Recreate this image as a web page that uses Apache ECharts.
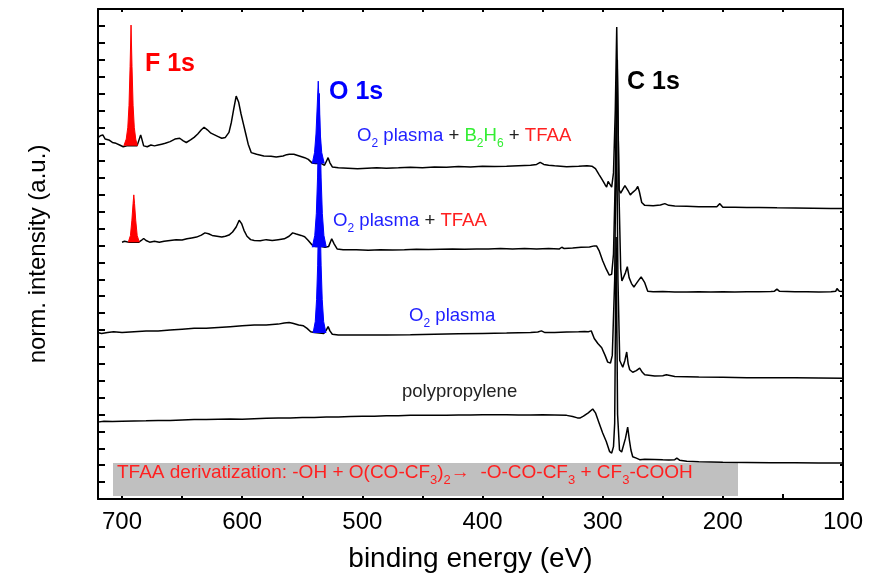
<!DOCTYPE html>
<html>
<head>
<meta charset="utf-8">
<script src="https://cdn.jsdelivr.net/npm/echarts@6.0.0/dist/echarts.min.js"></script>
<style>
html, body { margin: 0; padding: 0; background: #fff; }
#chart { width: 872px; height: 579px; }
</style>
</head>
<body>
<div id="chart"></div>
<script>
// binding energy axis (eV), reversed
const xTicks = [700, 600, 500, 400, 300, 200, 100];

// XPS survey spectra, [binding energy (eV), normalised intensity + offset]
const b2h6Tfaa = [[720.5,21.35],[718,21.5],[716,21.55],[714,21.3],[711,21.25],[708,21.1],[705,21.05],[702,20.95],[699,20.85],[696,20.9],[693,20.9],[690,20.9],[687.5,20.9],[686,21.0],[684.5,21.55],[683.5,21.3],[682,20.9],[679,20.85],[676,20.95],[673,20.9],[670,20.95],[667,21.0],[664,21.05],[660,21.15],[656,21.3],[652,21.35],[649,21.2],[646.5,21.1],[643,21.25],[640,21.4],[637,21.6],[634,21.85],[631.7,22.0],[629,21.85],[626,21.65],[623,21.55],[620,21.45],[617,21.35],[614,21.4],[611,21.7],[609,22.3],[607,23.1],[605,23.85],[603,23.5],[601,22.8],[599,22.2],[597,21.6],[595,21.0],[592.5,20.5],[588,20.4],[582,20.3],[576,20.28],[571.7,20.24],[566,20.3],[563,20.38],[560.8,20.41],[557,20.4],[552.5,20.3],[548,20.2],[545,20.1],[541.7,19.88],[539,19.85],[536.5,19.85],[534,19.85],[531.5,19.75],[529.5,20.05],[528.5,20.2],[527,19.9],[525,19.65],[520,19.6],[512,19.58],[504,19.55],[496,19.58],[488,19.6],[480,19.58],[470,19.6],[460,19.63],[450,19.6],[440,19.65],[430,19.63],[420,19.68],[410,19.65],[400,19.7],[390,19.68],[380,19.7],[370,19.73],[360,19.75],[355,19.8],[352,19.92],[349,19.8],[345,19.75],[340,19.72],[335,19.7],[330,19.66],[320,19.7],[313,19.73],[309,19.7],[306,19.55],[303,19.2],[300.8,18.95],[298,18.6],[296.7,18.46],[295.5,18.8],[294,18.88],[292.5,18.46],[291,19.3],[289.5,23],[288.3,27.93],[287.2,22],[286.3,18.3],[285,18.1],[283.5,18.3],[281.5,18.55],[280,18.6],[278.5,18.2],[277,18.0],[275,18.15],[272.5,18.3],[270.8,18.5],[269.5,18.2],[267.5,17.55],[265,17.38],[258,17.35],[252,17.4],[248.3,17.48],[245,17.38],[240,17.34],[230,17.33],[220,17.3],[210,17.3],[205,17.3],[202.5,17.48],[200,17.27],[190,17.26],[180,17.25],[170,17.25],[155,17.23],[140,17.22],[125,17.21],[110,17.2],[100,17.2]];

const tfaa = [[700,15.2],[698,15.25],[696,15.22],[694,15.2],[690,15.2],[686,15.2],[684,15.3],[682,15.42],[680,15.3],[677,15.2],[673,15.25],[669,15.2],[665,15.25],[660,15.3],[655,15.35],[650,15.33],[646,15.4],[642,15.45],[638,15.5],[634,15.62],[631,15.75],[628,15.7],[625,15.6],[621,15.55],[617,15.5],[614,15.55],[611,15.62],[608,15.8],[605,16.1],[602.5,16.5],[600.5,16.3],[598.5,15.9],[596,15.55],[593,15.35],[590,15.3],[585,15.28],[580,15.35],[575,15.3],[570,15.35],[565,15.4],[561,15.55],[558,15.75],[555,15.68],[551,15.6],[548,15.52],[545,15.3],[542,15.05],[539,14.95],[534,14.95],[531,14.9],[528,14.95],[525.5,15.4],[523.5,15.1],[521,14.8],[516,14.75],[505,14.75],[495,14.72],[485,14.75],[475,14.73],[465,14.75],[455,14.78],[445,14.76],[435,14.78],[425,14.8],[415,14.78],[405,14.8],[395,14.8],[385,14.82],[375,14.8],[365,14.82],[355,14.8],[345,14.82],[336,14.8],[334,14.9],[332,14.82],[325,14.85],[318,14.9],[311,14.92],[307,14.98],[305,14.97],[303,14.7],[300,14.1],[297,13.6],[294.5,13.25],[292.5,13.3],[291,14.5],[289.5,19],[287.8,26.0],[286.4,18],[285,13.6],[284,12.9],[282.5,13.0],[281,13.4],[279.5,13.75],[278,13.1],[276,12.75],[274,12.55],[272.5,12.7],[270,12.95],[268,13.15],[266.5,13.25],[265,12.8],[262.5,12.3],[258,12.26],[250,12.28],[240,12.25],[230,12.25],[220,12.27],[210,12.25],[200,12.26],[190,12.25],[180,12.27],[170,12.26],[160,12.28],[157,12.3],[155,12.42],[153,12.3],[140,12.27],[130,12.26],[120,12.25],[110,12.27],[106,12.3],[105,12.45],[103,12.3],[100,12.28]];

const o2Plasma = [[720.5,9.85],[717,9.8],[712,9.85],[707,9.9],[700,9.85],[690,9.9],[680,9.95],[670,9.95],[660,10.0],[650,10.05],[640,10.1],[630,10.1],[620,10.15],[610,10.2],[600,10.25],[590,10.3],[580,10.3],[570,10.35],[565,10.42],[561,10.45],[558,10.4],[553,10.3],[549,10.25],[546,10.1],[543,9.9],[540,9.85],[532,9.8],[530,10.0],[528.5,10.2],[527,9.95],[525,9.75],[520,9.7],[510,9.7],[500,9.7],[480,9.7],[460,9.72],[440,9.75],[420,9.78],[400,9.8],[380,9.82],[360,9.85],[354,9.88],[351,9.95],[348,9.85],[340,9.85],[330,9.88],[320,9.9],[315,9.92],[312,9.9],[309.5,9.95],[307,9.5],[304,9.2],[300.8,8.95],[298,8.5],[295.8,8.1],[293.5,8.05],[292,8.5],[290,13],[288.6,23.3],[287.3,13],[285.8,8.2],[283.3,7.8],[281.5,8.2],[280,8.7],[278.8,8.0],[277.5,7.65],[275,7.5],[272,7.6],[269.2,7.75],[267,7.5],[265,7.35],[256.7,7.28],[250,7.3],[247,7.35],[240,7.25],[220,7.22],[200,7.2],[180,7.18],[160,7.18],[140,7.17],[120,7.16],[100,7.15]];

const polypropylene = [[720.5,4.55],[715,4.6],[708,4.58],[700,4.6],[690,4.62],[680,4.63],[670,4.65],[660,4.64],[650,4.67],[640,4.7],[630,4.7],[620,4.72],[610,4.73],[600,4.72],[590,4.75],[580,4.78],[570,4.8],[560,4.8],[550,4.82],[540,4.83],[530,4.85],[520,4.86],[510,4.88],[500,4.9],[490,4.9],[480,4.92],[470,4.93],[460,4.95],[450,4.95],[440,4.96],[430,4.96],[420,4.97],[410,4.97],[400,4.98],[390,4.98],[380,4.98],[370,4.97],[360,4.97],[350,4.98],[340,4.97],[330,4.95],[325,4.88],[321,4.8],[319,4.79],[316,4.9],[312,5.1],[308.3,5.33],[306,5.1],[303,4.5],[300,3.91],[297,3.4],[294.2,2.8],[292.5,2.72],[291,3.1],[290,4.5],[288.8,15.5],[287.6,5],[286,2.9],[284.2,2.78],[283,2.85],[281,3.6],[279.2,4.26],[277.8,3.5],[276.5,2.9],[275,2.5],[272,2.42],[269.2,2.33],[265,2.35],[256.7,2.34],[250,2.32],[245,2.31],[240,2.33],[238.3,2.42],[236,2.3],[230,2.24],[220,2.2],[200,2.17],[180,2.16],[160,2.15],[140,2.14],[120,2.13],[100,2.13]];

// filled core-level peaks and the level they are filled from
const f1sTop = [[698.5,20.9],[696.5,21.3],[695.2,22.0],[694.2,23.3],[693.3,25.6],[692.5,28.05],[691.7,25.6],[690.8,23.3],[689.8,22.0],[688.6,21.3],[687.2,20.9]];
const f1sTopBase = 20.9;
const f1sMid = [[694.8,15.2],[693,15.6],[691.8,16.5],[690.8,17.5],[690.2,18.0],[689.6,17.5],[688.6,16.5],[687.4,15.6],[685.6,15.2]];
const f1sMidBase = 15.2;
const o1sTop = [[541.7,19.85],[539.8,20.5],[538.6,21.6],[537.6,23.2],[536.7,24.73],[535.9,23.2],[535.0,21.6],[533.8,20.5],[531.7,19.85]];
const o1sTopBase = 19.85;
const o1sMid = [[541.7,14.9],[539.6,15.6],[538.3,16.9],[537.3,19.0],[536.5,21.6],[535.8,24.0],[535.1,21.6],[534.3,19.0],[533.3,16.9],[532.0,15.6],[530.0,14.9]];
const o1sMidBase = 14.9;
const o1sLow = [[541.0,9.82],[539.2,10.5],[538.1,11.8],[537.2,13.8],[536.5,16.5],[535.8,19.3],[535.1,16.5],[534.3,13.8],[533.4,11.8],[532.2,10.5],[530.3,9.82]];
const o1sLowBase = 9.82;

const FONT = '"Liberation Sans", Arial, sans-serif';
const BLUE = '#1f1fff', RED = '#ff2020', GREEN = '#33ee33';

function trace(name, data) {
    return {
        name: name, type: 'line', data: data, symbol: 'none', silent: true, z: 2,
        lineStyle: {color: '#000', width: 1.5}
    };
}

function peak(name, data, base, color) {
    return {
        name: name, type: 'line', data: data, symbol: 'none', silent: true, z: 3,
        lineStyle: {color: color, width: 1},
        areaStyle: {color: color, opacity: 1, origin: base}
    };
}

// rich text pieces for the sample labels
function rich(size, sub) {
    let r = {};
    [['b', BLUE], ['k', '#222'], ['g', GREEN], ['r', RED]].forEach(function (c) {
        r[c[0]] = {fill: c[1], fontSize: size, fontFamily: FONT, lineHeight: 28, verticalAlign: 'middle'};
        r[c[0] + 's'] = {fill: c[1], fontSize: sub, fontFamily: FONT, lineHeight: 10, verticalAlign: 'bottom'};
    });
    return r;
}

let dom = document.getElementById('chart');
let myChart = echarts.init(dom, null, {renderer: 'canvas'});

let xBase = {
    type: 'value', min: 100, max: 720, interval: 50, inverse: true,
    splitLine: {show: false},
    axisLine: {show: true, onZero: false, lineStyle: {color: '#000', width: 2}},
    axisTick: {show: true, inside: true, length: 5, lineStyle: {color: '#000', width: 2}}
};
let yBase = {
    type: 'value', min: 0, max: 29, interval: 1,
    splitLine: {show: false},
    axisLabel: {show: false},
    axisLine: {show: true, onZero: false, lineStyle: {color: '#000', width: 2}}
};

let option = {
    animation: false,
    backgroundColor: '#fff',
    grid: {left: 98, right: 29, top: 9, bottom: 80, containLabel: false},
    xAxis: [
        Object.assign({}, xBase, {
            position: 'bottom',
            axisLabel: {
                color: '#000', fontSize: 24, fontFamily: FONT, margin: 11,
                formatter: function (v) { return xTicks.indexOf(v) >= 0 ? String(v) : ''; }
            },
            name: 'binding energy (eV)', nameLocation: 'middle', nameGap: 46,
            nameTextStyle: {color: '#000', fontSize: 28, fontFamily: FONT}
        }),
        Object.assign({}, xBase, {
            position: 'top', axisLabel: {show: false},
            axisTick: {show: true, inside: true, length: 3, lineStyle: {color: '#000', width: 2}}
        })
    ],
    yAxis: [
        Object.assign({}, yBase, {
            position: 'left',
            axisTick: {show: true, inside: true, length: 7, lineStyle: {color: '#000', width: 2}},
            name: 'norm. intensity (a.u.)', nameLocation: 'middle', nameGap: 48,
            nameTextStyle: {color: '#000', fontSize: 24, fontFamily: FONT}
        }),
        Object.assign({}, yBase, {
            position: 'right',
            axisTick: {show: true, inside: true, length: 3, lineStyle: {color: '#000', width: 2}}
        })
    ],
    series: [
        trace('O2 plasma + B2H6 + TFAA', b2h6Tfaa),
        trace('O2 plasma + TFAA', tfaa),
        trace('O2 plasma', o2Plasma),
        trace('polypropylene', polypropylene),
        peak('F 1s a', f1sTop, f1sTopBase, '#ff0000'),
        peak('F 1s b', f1sMid, f1sMidBase, '#ff0000'),
        peak('O 1s a', o1sTop, o1sTopBase, '#0000ff'),
        peak('O 1s b', o1sMid, o1sMidBase, '#0000ff'),
        peak('O 1s c', o1sLow, o1sLowBase, '#0000ff')
    ],
    graphic: [
        {type: 'rect', z: 1, shape: {x: 113, y: 463, width: 625, height: 33}, style: {fill: '#c0c0c0'}},
        {type: 'text', z: 10, style: {x: 145, y: 64, text: 'F 1s', fill: '#ff0000', font: 'bold 25px ' + FONT, textVerticalAlign: 'middle'}},
        {type: 'text', z: 10, style: {x: 329, y: 92, text: 'O 1s', fill: '#0000ff', font: 'bold 25px ' + FONT, textVerticalAlign: 'middle'}},
        {type: 'text', z: 10, style: {x: 627, y: 82, text: 'C 1s', fill: '#000', font: 'bold 25px ' + FONT, textVerticalAlign: 'middle'}},
        {type: 'text', z: 10, style: {
            x: 357, y: 122, textVerticalAlign: 'top',
            text: '{b|O}{bs|2}{b| plasma }{k|+}{g| B}{gs|2}{g|H}{gs|6}{k| + }{r|TFAA}',
            rich: rich(18.6, 12)
        }},
        {type: 'text', z: 10, style: {
            x: 333, y: 207, textVerticalAlign: 'top',
            text: '{b|O}{bs|2}{b| plasma }{k|+ }{r|TFAA}',
            rich: rich(18.6, 12)
        }},
        {type: 'text', z: 10, style: {
            x: 409, y: 302, textVerticalAlign: 'top',
            text: '{b|O}{bs|2}{b| plasma}',
            rich: rich(18.6, 12)
        }},
        {type: 'text', z: 10, style: {x: 402, y: 392, text: 'polypropylene', fill: '#222', font: '18.5px ' + FONT, textVerticalAlign: 'middle'}},
        {type: 'text', z: 10, style: {
            x: 117, y: 459, textVerticalAlign: 'top',
            text: '{r|TFAA derivatization: -OH + O(CO-CF}{rs|3}{r|)}{rs|2}{r|\u2192  -O-CO-CF}{rs|3}{r| + CF}{rs|3}{r|-COOH}',
            rich: rich(19, 13)
        }}
    ]
};

if (option && typeof option === 'object') {
    myChart.setOption(option, true);
}
</script>
</body>
</html>
